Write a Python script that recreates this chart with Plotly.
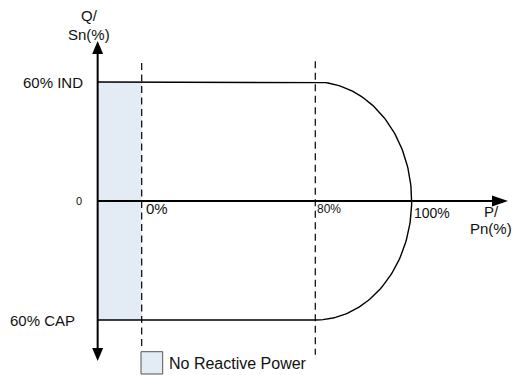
import numpy as np
import plotly.graph_objects as go

# schematic values, percent
p_marks = [0, 80, 100]
p_labels = ["0%", "80%", "100%"]
q_limits = [60, -60]
q_labels = ["60% IND", "60% CAP"]
q_zero_label = "0"
q_title = ["Q/", "Sn(%)"]
p_title = ["P/", "Pn(%)"]
band_name = "No Reactive Power"

# the 80..100 % part of P is drawn stretched, as in the original sketch
STRETCH = 2.22


def px(p):
    p = np.asarray(p, dtype=float)
    return np.where(p <= p_marks[1], p, p_marks[1] + (p - p_marks[1]) * STRETCH)


AXIS_X = -20.3     # where the Q axis crosses, in drawing units
AXIS_END = 168.8   # tip of the P arrow
Q_END = 80.7       # tips of the Q arrow
FONT = "Liberation Sans, Arial, sans-serif"
BAND = "#E3EBF5"
INK = "#111111"

q_top, q_bot = q_limits
p0, p80, p100 = px(p_marks)

fig = go.Figure()

# no reactive power band
fig.add_trace(go.Scatter(
    x=[AXIS_X, p0, p0, AXIS_X], y=[q_top, q_top, q_bot, q_bot],
    fill="toself", fillcolor=BAND, line=dict(width=0),
    mode="lines", name=band_name, hoverinfo="skip",
))

# capability curve
theta = np.linspace(np.pi / 2, -np.pi / 2, 120)
arc_x = p80 + (p100 - p80) * np.cos(theta)
arc_y = q_top * np.sin(theta)
fig.add_trace(go.Scatter(
    x=np.concatenate([[AXIS_X, p80], arc_x, [p80, AXIS_X]]),
    y=np.concatenate([[q_top, q_top], arc_y, [q_bot, q_bot]]),
    mode="lines", line=dict(color="black", width=1.4),
))

# dashed limits
for xv, top, bot in [(p0, 69.6, -73.6), (p80, 70.5, -77.5)]:
    fig.add_trace(go.Scatter(
        x=[xv, xv], y=[top, bot], mode="lines",
        line=dict(color="black", width=1.2, dash="7px,4.5px"),
    ))

# axes
fig.add_trace(go.Scatter(x=[AXIS_X, AXIS_END - 3], y=[0, 0], mode="lines",
                         line=dict(color="black", width=2)))
fig.add_trace(go.Scatter(x=[AXIS_X, AXIS_X], y=[Q_END - 3, -Q_END + 3], mode="lines",
                         line=dict(color="black", width=2)))

arrow = dict(type="path", xsizemode="pixel", ysizemode="pixel",
             fillcolor="black", line=dict(width=0), layer="above")
fig.add_shape(path="M0,0 L-16,5.5 L-16,-5.5 Z", xanchor=AXIS_END, yanchor=0, **arrow)
fig.add_shape(path="M0,0 L-5.5,-13 L5.5,-13 Z", xanchor=AXIS_X, yanchor=Q_END, **arrow)
fig.add_shape(path="M0,0 L-5.5,13 L5.5,13 Z", xanchor=AXIS_X, yanchor=-Q_END, **arrow)

# legend box
fig.add_shape(type="rect", xref="paper", yref="paper",
              x0=141 / 512, x1=162.7 / 512, y0=1 - 374 / 375, y1=1 - 351.7 / 375,
              fillcolor=BAND, line=dict(color="#555555", width=1))


def f(size):
    return dict(family=FONT, size=size, color=INK)


txt = dict(showarrow=False, borderpad=0, font=f(15))

ann = [
    dict(x=p0, y=0, text=p_labels[0], xanchor="left", yanchor="middle", xshift=3, yshift=-7.5),
    dict(x=p80, y=0, text=p_labels[1], xanchor="left", yanchor="middle", xshift=1, yshift=-8,
         font=f(12)),
    dict(x=p100, y=0, text=p_labels[2], xanchor="left", yanchor="middle", xshift=1.5, yshift=-11.5,
         font=f(14)),
    dict(x=AXIS_X, y=0, text=q_zero_label, xanchor="center", yanchor="middle", xshift=-18.7,
         font=f(11)),
    dict(x=AXIS_X, y=q_top, text=q_labels[0], xanchor="right", yanchor="middle", xshift=-13.7),
    dict(x=AXIS_X, y=q_bot, text=q_labels[1], xanchor="right", yanchor="middle", xshift=-21.7),
    dict(xref="paper", yref="paper", x=89 / 512, y=1 - 16 / 375, text=q_title[0],
         xanchor="center", yanchor="middle"),
    dict(xref="paper", yref="paper", x=89 / 512, y=1 - 34 / 375, text=q_title[1],
         xanchor="center", yanchor="middle"),
    dict(xref="paper", yref="paper", x=491 / 512, y=1 - 211 / 375, text=p_title[0],
         xanchor="center", yanchor="middle"),
    dict(xref="paper", yref="paper", x=491 / 512, y=1 - 228.5 / 375, text=p_title[1],
         xanchor="center", yanchor="middle"),
    dict(xref="paper", yref="paper", x=168 / 512, y=1 - 363 / 375, text=band_name,
         xanchor="left", yanchor="middle", font=f(16)),
]
for a in ann:
    fig.add_annotation(**{**txt, **a})

fig.update_layout(
    width=512, height=375,
    margin=dict(l=0, r=0, t=0, b=0),
    paper_bgcolor="white", plot_bgcolor="white",
    showlegend=False,
    xaxis=dict(range=[-65.3, 170.65], visible=False, fixedrange=True),
    yaxis=dict(range=[-87.73, 101.35], visible=False, fixedrange=True),
)

fig.write_html("out.html", config={"displayModeBar": False},
               post_script="document.body.style.margin='0';")
